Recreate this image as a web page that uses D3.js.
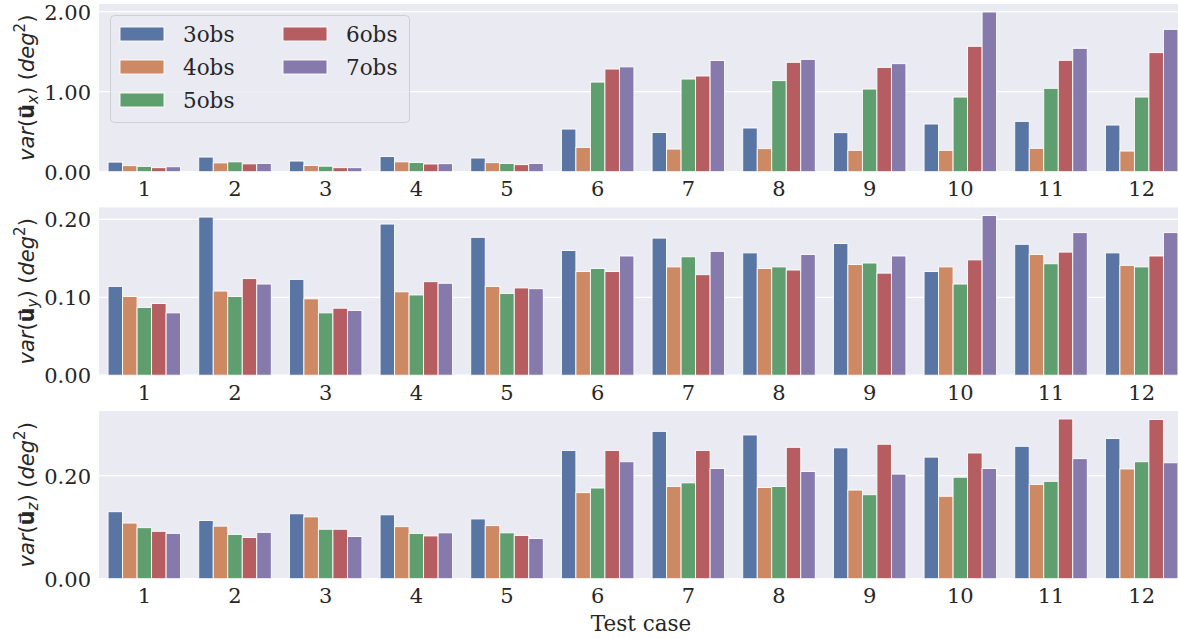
<!DOCTYPE html>
<html>
<head>
<meta charset="utf-8">
<script src="https://cdn.jsdelivr.net/npm/d3@7"></script>
<style>
  html, body { margin: 0; padding: 0; background: #ffffff; }
  svg { display: block; }
  .tick text { font-family: "DejaVu Serif", serif; font-size: 21px; fill: #262626; }
</style>
</head>
<body>
<svg id="chart" width="1178" height="639"></svg>
<script>
// Test cases on the x axis and the observation-count groups
const categories = ["1", "2", "3", "4", "5", "6", "7", "8", "9", "10", "11", "12"];
const series = ["3obs", "4obs", "5obs", "6obs", "7obs"];
const colors = ["#5975a4", "#cc8963", "#5f9e6e", "#b55d60", "#857aab"];

// var(u_x), one row per series
const ux3 = [0.120, 0.183, 0.133, 0.189, 0.171, 0.533, 0.490, 0.546, 0.488, 0.596, 0.629, 0.583];
const ux4 = [0.075, 0.110, 0.077, 0.123, 0.113, 0.304, 0.283, 0.288, 0.267, 0.267, 0.292, 0.258];
const ux5 = [0.067, 0.123, 0.069, 0.115, 0.104, 1.120, 1.158, 1.138, 1.033, 0.933, 1.042, 0.933];
const ux6 = [0.050, 0.098, 0.050, 0.096, 0.088, 1.283, 1.196, 1.367, 1.304, 1.567, 1.392, 1.488];
const ux7 = [0.062, 0.104, 0.050, 0.100, 0.104, 1.310, 1.390, 1.404, 1.350, 1.996, 1.542, 1.779];

// var(u_y)
const uy3 = [0.114, 0.203, 0.123, 0.194, 0.177, 0.160, 0.176, 0.157, 0.169, 0.133, 0.168, 0.157];
const uy4 = [0.101, 0.108, 0.098, 0.107, 0.114, 0.133, 0.139, 0.137, 0.142, 0.139, 0.155, 0.141];
const uy5 = [0.087, 0.101, 0.080, 0.103, 0.105, 0.137, 0.152, 0.139, 0.144, 0.117, 0.143, 0.139];
const uy6 = [0.092, 0.124, 0.086, 0.120, 0.112, 0.133, 0.129, 0.135, 0.131, 0.148, 0.158, 0.153];
const uy7 = [0.080, 0.117, 0.083, 0.118, 0.111, 0.153, 0.159, 0.155, 0.153, 0.205, 0.183, 0.183];

// var(u_z)
const uz3 = [0.130, 0.113, 0.126, 0.124, 0.116, 0.249, 0.286, 0.279, 0.254, 0.236, 0.257, 0.272];
const uz4 = [0.108, 0.102, 0.120, 0.101, 0.103, 0.167, 0.179, 0.177, 0.172, 0.160, 0.183, 0.213];
const uz5 = [0.099, 0.086, 0.096, 0.088, 0.089, 0.176, 0.186, 0.179, 0.163, 0.197, 0.189, 0.227];
const uz6 = [0.092, 0.080, 0.096, 0.083, 0.084, 0.249, 0.249, 0.255, 0.261, 0.244, 0.310, 0.309];
const uz7 = [0.088, 0.090, 0.082, 0.089, 0.078, 0.227, 0.214, 0.208, 0.203, 0.214, 0.233, 0.225];

// y tick values per panel
const uxTicks = [0, 1, 2];
const uyTicks = [0, 0.1, 0.2];
const uzTicks = [0, 0.2];

const panels = [
  { rows: [ux3, ux4, ux5, ux6, ux7], ticks: uxTicks, sub: "x", top: 4, legend: true },
  { rows: [uy3, uy4, uy5, uy6, uy7], ticks: uyTicks, sub: "y", top: 207.5, legend: false },
  { rows: [uz3, uz4, uz5, uz6, uz7], ticks: uzTicks, sub: "z", top: 411, legend: false }
];

const svg = d3.select("#chart");
const left = 99, plotW = 1088, plotH = 167.7;
const fg = "#262626";

const x0 = d3.scaleBand().domain(categories).range([left, left + plotW]).paddingInner(0.2).paddingOuter(0.1);
const x1 = d3.scaleBand().domain(series).range([0, x0.bandwidth()]);

panels.forEach(p => {
  const bottom = p.top + plotH;
  const maxV = d3.max(p.rows, r => d3.max(r));
  const y = d3.scaleLinear().domain([0, maxV * 1.05]).range([bottom, p.top]);
  const g = svg.append("g");

  g.append("rect").attr("x", left).attr("y", p.top).attr("width", plotW).attr("height", plotH).attr("fill", "#eaeaf2");

  // gridlines
  g.selectAll("line.grid").data(p.ticks).join("line")
    .attr("x1", left).attr("x2", left + plotW)
    .attr("y1", d => y(d)).attr("y2", d => y(d))
    .attr("stroke", "#ffffff").attr("stroke-width", 1.2);

  // bars
  p.rows.forEach((row, si) => {
    g.append("g").selectAll("rect").data(row).join("rect")
      .attr("x", (d, i) => x0(categories[i]) + x1(series[si]))
      .attr("y", d => y(d))
      .attr("width", x1.bandwidth())
      .attr("height", d => bottom - y(d))
      .attr("fill", colors[si])
      .attr("stroke", "#ffffff").attr("stroke-width", 0.9);
  });

  // axes
  const ya = g.append("g").attr("transform", `translate(${left},0)`)
    .call(d3.axisLeft(y).tickValues(p.ticks).tickFormat(d3.format(".2f")).tickSize(0).tickPadding(8));
  ya.select(".domain").remove();
  ya.selectAll("text").attr("fill", fg).attr("dy", "0.36em");

  const xa = g.append("g").attr("transform", `translate(0,${bottom})`)
    .call(d3.axisBottom(x0).tickSize(0).tickPadding(8));
  xa.select(".domain").remove();
  xa.selectAll("text").attr("fill", fg).attr("dy", "0.8em");

  // y label: var(u⃗_s) (deg²)
  const cy = (p.top + bottom) / 2;
  const lab = g.append("text")
    .attr("transform", `translate(34,${cy}) rotate(-90)`)
    .attr("text-anchor", "middle")
    .attr("font-family", "DejaVu Sans, sans-serif")
    .attr("font-size", 21).attr("fill", fg)
    .attr("xml:space", "preserve");
  lab.append("tspan").attr("font-style", "italic").text("var");
  lab.append("tspan").text("(");
  lab.append("tspan").attr("font-weight", "bold").text("u\u20D7");
  lab.append("tspan").attr("font-style", "italic").attr("font-size", 15).attr("dy", 4).text(p.sub);
  lab.append("tspan").attr("dy", -4).text(") (");
  lab.append("tspan").attr("font-style", "italic").text("deg");
  lab.append("tspan").attr("font-size", 15).attr("dy", -9).text("2");
  lab.append("tspan").attr("dy", 9).text(")");

  if (p.legend) {
    const lg = g.append("g");
    lg.append("rect").attr("x", 110.5).attr("y", 15.5).attr("width", 299).attr("height", 107)
      .attr("rx", 4).attr("fill", "#eaeaf2").attr("fill-opacity", 0.8)
      .attr("stroke", "#cfcfd6").attr("stroke-width", 1);
    const pos = [[120, 34], [120, 67], [120, 100], [283, 34], [283, 67]];
    series.forEach((s, i) => {
      const [lx, ly] = pos[i];
      lg.append("rect").attr("x", lx).attr("y", ly - 7).attr("width", 44).attr("height", 14)
        .attr("fill", colors[i]).attr("stroke", "#ffffff").attr("stroke-width", 0.9);
      lg.append("text").attr("x", lx + 63).attr("y", ly).attr("dy", "0.36em")
        .attr("font-family", "DejaVu Serif, serif").attr("font-size", 21.5).attr("fill", fg)
        .text(s);
    });
  }
});

// shared x label
svg.append("text").attr("x", left + plotW / 2 - 2).attr("y", 623).attr("dy", "0.36em")
  .attr("text-anchor", "middle")
  .attr("font-family", "DejaVu Serif, serif").attr("font-size", 21.5).attr("fill", fg)
  .text("Test case");
</script>
</body>
</html>
